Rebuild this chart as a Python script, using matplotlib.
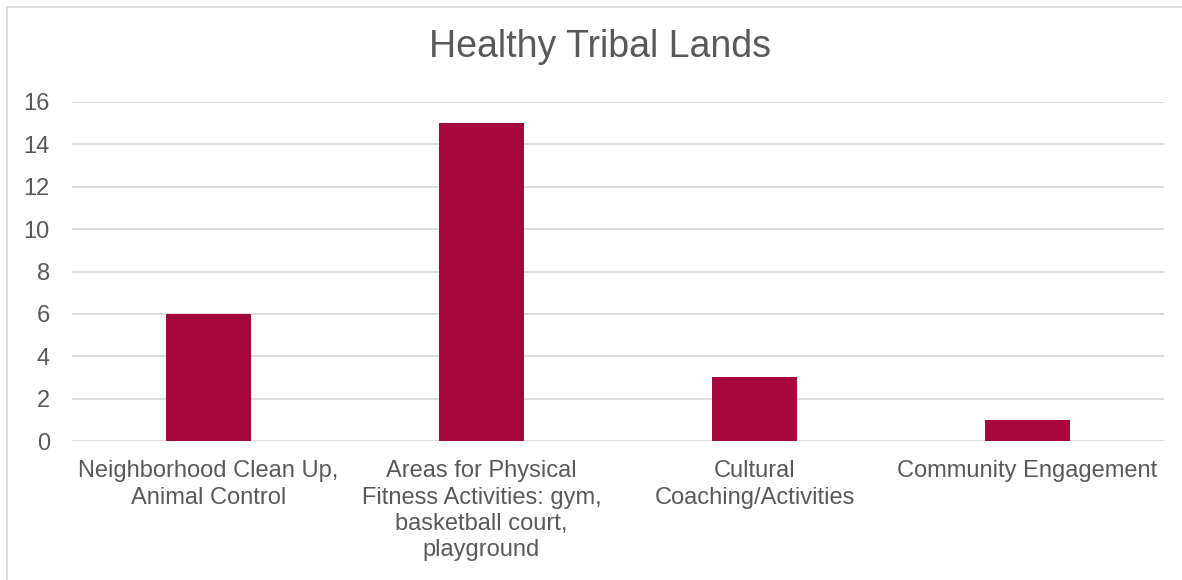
import matplotlib.pyplot as plt
from matplotlib.lines import Line2D

# Datos
categorias = [
    "Neighborhood Clean Up,\nAnimal Control",
    "Areas for Physical\nFitness Activities: gym,\nbasketball court,\nplayground",
    "Cultural\nCoaching/Activities",
    "Community Engagement",
]
valores = [6, 15, 3, 1]
yticks = [0, 2, 4, 6, 8, 10, 12, 14, 16]

gris = "#595959"
plt.rcParams['font.family'] = ['Liberation Sans', 'DejaVu Sans']

fig = plt.figure(figsize=(11.82, 5.80), dpi=100)
ax = fig.add_axes([72 / 1182, 1 - 441 / 580, (1164 - 72) / 1182, (441 - 102) / 580])

x = range(len(categorias))
ax.bar(x, valores, width=0.315, color="#A5063C", zorder=3)

ax.set_xlim(-0.5, len(categorias) - 0.5)
ax.set_ylim(0, 16)
ax.set_yticks(yticks)
ax.set_xticks(list(x))
ax.set_xticklabels(categorias, fontsize=17, color=gris, linespacing=1.24)
ax.tick_params(axis='y', labelsize=17, labelcolor=gris, length=0, pad=16)
ax.tick_params(axis='x', length=0, pad=14)

ax.grid(axis='y', color="#d9d9d9", linewidth=1.3, zorder=0)
for s in ax.spines.values():
    s.set_visible(False)

fig.text(600 / 1182, 1 - 47 / 580, "Healthy Tribal Lands", fontsize=27,
         color=gris, ha='center', va='center')

# Borde del gráfico
fig.add_artist(Line2D([7 / 1182, 7 / 1182], [0, 1 - 7 / 580], color="#d9d9d9",
                      linewidth=1.3, transform=fig.transFigure))
fig.add_artist(Line2D([7 / 1182, 1], [1 - 7 / 580, 1 - 7 / 580], color="#d9d9d9",
                      linewidth=1.3, transform=fig.transFigure))

fig.savefig("out.png", dpi=100)
